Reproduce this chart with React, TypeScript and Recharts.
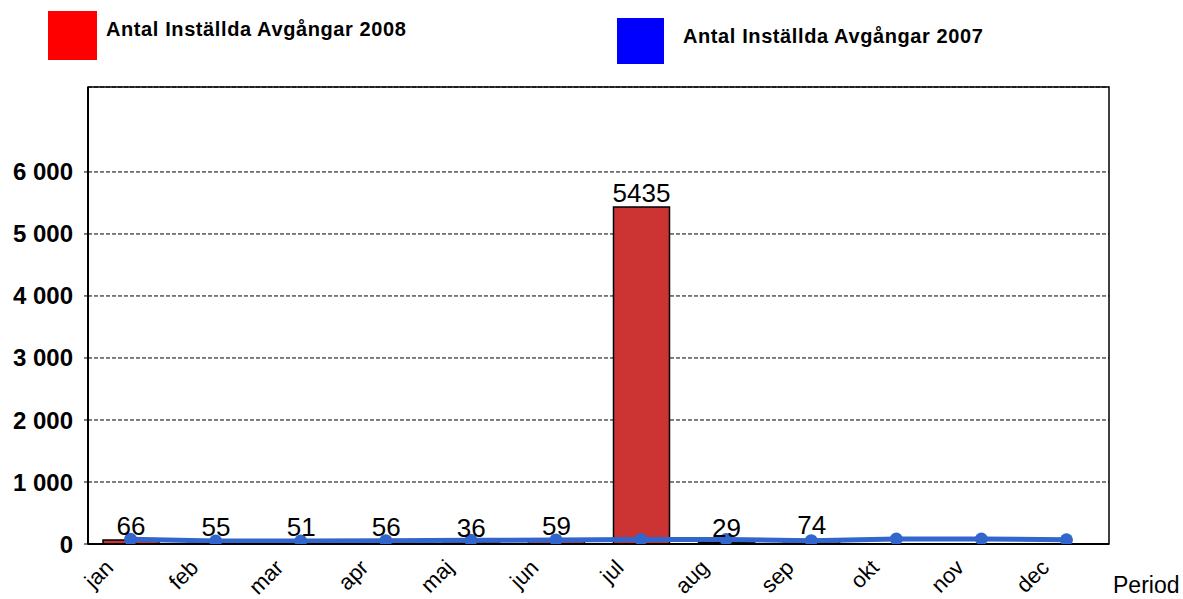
import React from 'react';
import { ComposedChart, Bar, Line, XAxis, YAxis, CartesianGrid, LabelList, ReferenceArea } from 'recharts';

const months = ['jan', 'feb', 'mar', 'apr', 'maj', 'jun', 'jul', 'aug', 'sep', 'okt', 'nov', 'dec'];
const cancelled2008: (number | null)[] = [66, 55, 51, 56, 36, 59, 5435, 29, 74, null, null, null];
const cancelled2007: number[] = [76, 48, 48, 53, 60, 65, 73, 73, 53, 81, 81, 69];
const yTicks = [0, 1000, 2000, 3000, 4000, 5000, 6000];
const yMax = 7370;

const name2008 = 'Antal Inställda Avgångar 2008';
const name2007 = 'Antal Inställda Avgångar 2007';

const data = months.map((m, i) => ({ month: m, y2008: cancelled2008[i], y2007: cancelled2007[i] }));

const FONT = '"Liberation Sans", Arial, sans-serif';

const fmt = (v: number) => String(v).replace(/\B(?=(\d{3})+(?!\d))/g, ' ');

const XTick = (props: any) => {
  const { x, y, payload } = props;
  const ax = x - 16;
  const ay = y + 17;
  return (
    <text x={ax} y={ay} textAnchor="end" fontSize={22} fontFamily={FONT} fill="#000" transform={`rotate(-45, ${ax}, ${ay})`}>
      {payload.value}
    </text>
  );
};

const legendText: React.CSSProperties = {
  position: 'absolute',
  fontSize: 20,
  letterSpacing: 0.6,
  fontWeight: 'bold',
  color: '#000',
  whiteSpace: 'nowrap',
  lineHeight: '23px',
};

export default function App() {
  return (
    <div style={{ position: 'absolute', left: 0, top: 0, width: 1183, height: 599, background: '#fff', fontFamily: FONT, overflow: 'hidden' }}>
      <ComposedChart width={1183} height={599} data={data} margin={{ top: 87, right: 74, bottom: 0, left: 0 }} barCategoryGap={0}>
        <CartesianGrid horizontal vertical={false} stroke="#000" strokeDasharray="4 2" />
        <XAxis dataKey="month" height={55} tick={<XTick />} tickLine={false} axisLine={{ stroke: '#000', strokeWidth: 2 }} interval={0} />
        <YAxis
          width={88}
          domain={[0, yMax]}
          ticks={yTicks}
          tickFormatter={fmt}
          tick={{ fontSize: 24, fontWeight: 'bold', fill: '#000', fontFamily: FONT }}
          tickSize={4}
          tickMargin={11}
          tickLine={{ stroke: '#000' }}
          axisLine={{ stroke: '#000', strokeWidth: 2 }}
          allowDataOverflow
        />
        <ReferenceArea y1={0} y2={yMax} fill="none" fillOpacity={0} stroke="#000" strokeWidth={1.5} ifOverflow="visible" />
        <Bar dataKey="y2008" name={name2008} fill="#CC3333" stroke="#000" strokeWidth={1.5} barSize={56} isAnimationActive={false}>
          <LabelList dataKey="y2008" position="top" offset={5} fontSize={26} fill="#000" fontFamily={FONT} />
        </Bar>
        <Line dataKey="y2007" name={name2007} stroke="#3366CC" strokeWidth={5} dot={{ r: 6.5, fill: '#3366CC', stroke: '#3366CC', strokeWidth: 0 }} isAnimationActive={false} />
      </ComposedChart>
      <div style={{ position: 'absolute', left: 48, top: 11, width: 49, height: 49, background: '#FF0000' }} />
      <div style={{ ...legendText, left: 106, top: 18 }}>{name2008}</div>
      <div style={{ position: 'absolute', left: 617, top: 18, width: 47, height: 46, background: '#0000FF' }} />
      <div style={{ ...legendText, left: 683, top: 25 }}>{name2007}</div>
      <div style={{ position: 'absolute', left: 1113, top: 572, fontSize: 23, color: '#000', whiteSpace: 'nowrap' }}>Period</div>
    </div>
  );
}
